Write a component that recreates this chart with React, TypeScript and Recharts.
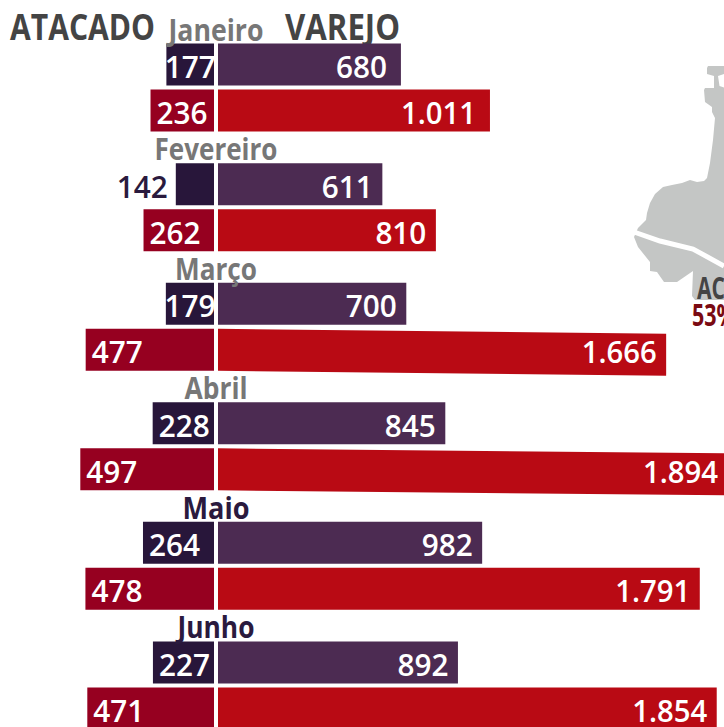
import React from "react";
import { BarChart, Bar, XAxis, YAxis, LabelList } from "recharts";

const months = ["Janeiro", "Fevereiro", "Março", "Abril", "Maio", "Junho"];
const monthWidths = [95, 123, 82, 63, 67, 77];
const atacadoTop = [177, 142, 179, 228, 264, 227];
const varejoTop = [680, 611, 700, 845, 982, 892];
const atacadoBottom = [236, 262, 477, 497, 478, 471];
const varejoBottom = [1011, 810, 1666, 1894, 1791, 1854];
const tiltedMonths = ["Março", "Abril"];

const rows = months.map((month, i) => ({
  month,
  atacadoTop: atacadoTop[i],
  varejoTop: varejoTop[i],
  atacadoBottom: atacadoBottom[i],
  varejoBottom: varejoBottom[i],
}));

const FONT = "'Open Sans', sans-serif";
const PX_PER_UNIT = 0.269;
const CHART_H = 745;
const MARGIN = { top: 27.6, right: 0, bottom: 0, left: 0 };
const LEFT_W = 300;
const LEFT_ZERO = 214;
const RIGHT_X = 218;
const RIGHT_W = 600;

const fmt = (v: number) => String(v).replace(/\B(?=(\d{3})+$)/g, ".");
const fmtWidth = (s: string) => (s.length > 3 ? 17 * (s.length - 1) + 7 : 17 * s.length);

const numStyle = { fontFamily: FONT, fontWeight: 600, fontSize: 31 } as const;

const LeftLabel = (p: any) => {
  const w = Math.abs(p.width);
  const left = Math.min(p.x, p.x + p.width);
  const base = p.y + 34.5;
  let tx = left + 6;
  let fill = "#fff";
  if (w < 40) {
    tx = left - 59;
    fill = "#2a1a3e";
  } else if (w < 60) {
    tx = left + (w - 51) / 2;
  }
  const s = fmt(p.value);
  return (
    <text x={tx} y={base} fill={fill} textLength={fmtWidth(s)} lengthAdjust="spacingAndGlyphs" style={numStyle}>
      {s}
    </text>
  );
};

const RightLabel = (p: any) => {
  const s = fmt(p.value);
  const tw = fmtWidth(s);
  const pad = p.index === 0 ? 14 : 9.5;
  return (
    <text
      x={p.x + p.width - pad - tw}
      y={p.y + 34.5}
      fill="#fff"
      textLength={tw}
      lengthAdjust="spacingAndGlyphs"
      style={numStyle}
    >
      {s}
    </text>
  );
};

const TiltBar = (p: any) => {
  const t = tiltedMonths.includes(p.payload.month) ? 5 : 0;
  const { x, y, width: w, height: h, fill } = p;
  return <polygon points={`${x},${y} ${x + w},${y + t} ${x + w},${y + h + t} ${x},${y + h}`} fill={fill} />;
};

const MonthLabel = (p: any) => {
  const i = months.indexOf(p.value);
  return (
    <text
      x={216}
      y={p.y - 3}
      textAnchor="middle"
      textLength={monthWidths[i]}
      lengthAdjust="spacingAndGlyphs"
      fill={i >= 4 ? "#2a1a3e" : "#777777"}
      style={{ fontFamily: FONT, fontWeight: 700, fontSize: 31 }}
    >
      {months[i]}
    </text>
  );
};

const heading = { fontFamily: FONT, fontWeight: 700, fontSize: 35, fill: "#444444" } as const;

export default function App() {
  return (
    <div
      style={{
        position: "fixed",
        left: 0,
        top: 0,
        width: 724,
        height: 727,
        overflow: "hidden",
        background: "#fff",
      }}
    >
      <svg width={724} height={727} style={{ position: "absolute", left: 0, top: 0 }}>
        <path
          d="M708 66 L724 66 L724 74 L718 76 L719.5 86 L724 87.5 L724 300 L695 300 L692 296 L693 271 L677 282 L664 282 L657 272 L650 271 L650 262 L638 247 L634 237 L638 228 L646 220 L647 213 L650 203 L655 194 L663 187 L672 185 L682 183 L690 180 L697 182 L704 181 L707 178 L710 163 L713 140 L715 118 L712 112 L712 107 L705 102 L704 90 L705 88 L714 88 L714 76 L707 74 L707 68 Z"
          fill="#c4c6c5"
        />
        <path d="M634 232 L660 241 L693 249 L724 266" fill="none" stroke="#fff" strokeWidth={5} />
        <text x={697} y={299} textLength={28} lengthAdjust="spacingAndGlyphs" style={{ fontFamily: FONT, fontWeight: 700, fontSize: 30, fill: "#444444" }}>
          AC
        </text>
        <text x={692} y={326} textLength={44} lengthAdjust="spacingAndGlyphs" style={{ fontFamily: FONT, fontWeight: 700, fontSize: 30, fill: "#7a0a12" }}>
          53%
        </text>
        <text x={10} y={40} textLength={145} lengthAdjust="spacingAndGlyphs" style={heading}>
          ATACADO
        </text>
        <text x={285} y={40} textLength={115} lengthAdjust="spacingAndGlyphs" style={heading}>
          VAREJO
        </text>
      </svg>

      <div style={{ position: "absolute", left: RIGHT_X, top: 0 }}>
        <BarChart width={RIGHT_W} height={CHART_H} data={rows} layout="vertical" margin={MARGIN} barSize={42} barGap={4}>
          <XAxis type="number" hide domain={[0, RIGHT_W / PX_PER_UNIT]} />
          <YAxis type="category" dataKey="month" hide />
          <Bar dataKey="varejoTop" fill="#4c2b52" isAnimationActive={false}>
            <LabelList dataKey="varejoTop" content={RightLabel} />
          </Bar>
          <Bar dataKey="varejoBottom" fill="#b90a14" shape={TiltBar} isAnimationActive={false}>
            <LabelList dataKey="varejoBottom" content={RightLabel} />
          </Bar>
        </BarChart>
      </div>

      <div style={{ position: "absolute", left: 0, top: 0 }}>
        <BarChart width={LEFT_W} height={CHART_H} data={rows} layout="vertical" margin={MARGIN} barSize={42} barGap={4}>
          <XAxis
            type="number"
            hide
            reversed
            domain={[-(LEFT_W - LEFT_ZERO) / PX_PER_UNIT, LEFT_ZERO / PX_PER_UNIT]}
          />
          <YAxis type="category" dataKey="month" hide />
          <Bar dataKey="atacadoTop" fill="#28163a" isAnimationActive={false}>
            <LabelList dataKey="atacadoTop" content={LeftLabel} />
            <LabelList dataKey="month" content={MonthLabel} />
          </Bar>
          <Bar dataKey="atacadoBottom" fill="#960020" isAnimationActive={false}>
            <LabelList dataKey="atacadoBottom" content={LeftLabel} />
          </Bar>
        </BarChart>
      </div>
    </div>
  );
}
